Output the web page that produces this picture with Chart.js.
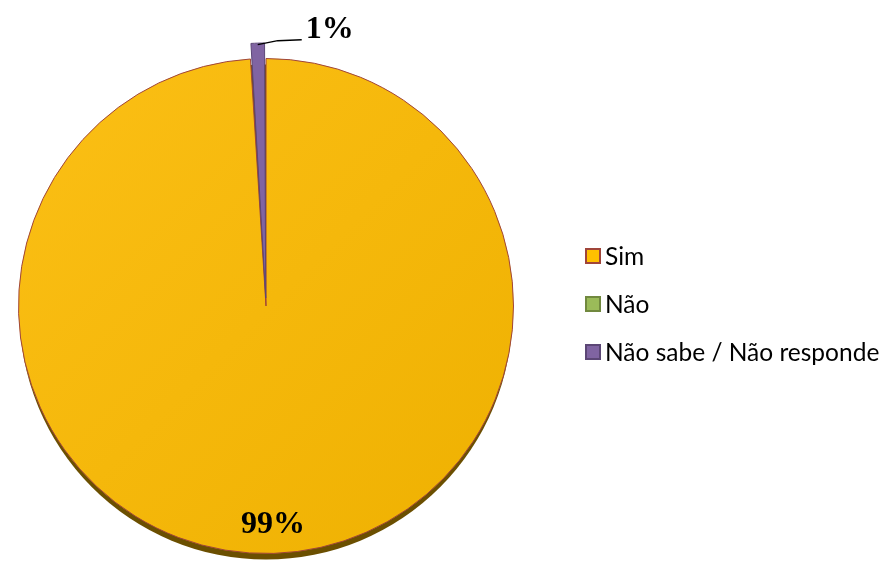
<!DOCTYPE html>
<html>
<head>
<meta charset="utf-8">
<script src="https://cdn.jsdelivr.net/npm/chart.js@4"></script>
<style>
  html, body { margin: 0; padding: 0; background: #fff; }
  #wrap { width: 885px; height: 570px; }
</style>
</head>
<body>
<div id="wrap"><canvas id="pie"></canvas></div>
<script>
  const labels = ["Sim", "Não", "Não sabe / Não responde"];
  const values = [99, 0, 1];
  const valueLabels = ["99%", "", "1%"];

  const sliceColors = ['#F5B90C', '#9BBB59', '#8064A2'];
  const legendColors = ['#FFC000', '#9BBB59', '#8064A2'];
  const sliceBorders = ['#A0453A', '#71893F', '#5C4776'];

  // light-to-dark sheen on the big slice
  function sliceFill(c) {
    const area = c.chart.chartArea;
    if (!area || c.dataIndex !== 0) return sliceColors[c.dataIndex];
    const g = c.chart.ctx.createLinearGradient(area.left, area.top, area.right, area.bottom);
    g.addColorStop(0, '#FCC016');
    g.addColorStop(1, '#EEB000');
    return g;
  }

  // dark rim under the pie, like the 3d edge in the original
  const rimPlugin = {
    id: 'rim',
    beforeDatasetsDraw(chart) {
      const arc = chart.getDatasetMeta(0).data[0];
      if (!arc) return;
      const ctx = chart.ctx;
      ctx.save();
      ctx.fillStyle = '#6B4F00';
      ctx.beginPath();
      ctx.ellipse(arc.x, arc.y + 6, arc.outerRadius - 1, arc.outerRadius, 0, 0, Math.PI * 2);
      ctx.fill();
      ctx.restore();
    }
  };

  const valueLabelPlugin = {
    id: 'valueLabels',
    afterDatasetsDraw(chart) {
      const ctx = chart.ctx;
      const meta = chart.getDatasetMeta(0);
      ctx.save();
      ctx.font = 'bold 32px "Times New Roman", "Liberation Serif", serif';
      ctx.fillStyle = '#000';
      ctx.textBaseline = 'middle';
      meta.data.forEach((arc, i) => {
        if (!valueLabels[i]) return;
        const mid = (arc.startAngle + arc.endAngle) / 2;
        if (i === 0) {
          const r = arc.outerRadius * 0.885;
          ctx.textAlign = 'center';
          ctx.fillText(valueLabels[i], arc.x + Math.cos(mid) * r, arc.y + Math.sin(mid) * r);
        } else {
          // arc offset is drawn at half its value
          const off = chart.data.datasets[0].offset[i] / 2;
          const r = arc.outerRadius + off;
          const px = arc.x + Math.cos(mid) * r;
          const py = arc.y + Math.sin(mid) * r + 2;
          ctx.strokeStyle = '#000';
          ctx.lineWidth = 1.5;
          ctx.beginPath();
          ctx.moveTo(px, py);
          ctx.lineTo(px + 20, py - 4);
          ctx.lineTo(px + 44, py - 5);
          ctx.stroke();
          ctx.textAlign = 'left';
          ctx.fillText(valueLabels[i], px + 48, py - 15);
        }
      });
      ctx.restore();
    }
  };

  // legend drawn to the right of the pie, like the office chart
  const sideLegend = {
    id: 'sideLegend',
    afterDraw(chart) {
      const ctx = chart.ctx;
      const x = chart.chartArea.right + 54;
      const top = 256;
      const step = 48;
      ctx.save();
      ctx.font = '24.5px Lato, "Open Sans", sans-serif';
      ctx.textBaseline = 'middle';
      ctx.textAlign = 'left';
      labels.forEach((lab, i) => {
        const y = top + i * step;
        ctx.fillStyle = legendColors[i];
        ctx.fillRect(x, y - 7, 14, 14);
        ctx.strokeStyle = sliceBorders[i];
        ctx.lineWidth = 2;
        ctx.strokeRect(x, y - 7, 14, 14);
        ctx.fillStyle = '#000';
        ctx.fillText(lab, x + 19, y + 1);
      });
      ctx.restore();
    }
  };

  const pieChart = new Chart(document.getElementById('pie'), {
    type: 'pie',
    data: {
      labels: labels,
      datasets: [
        {
          data: values,
          backgroundColor: sliceFill,
          borderColor: sliceBorders,
          borderWidth: 1,
          offset: [0, 0, 32]
        }
      ]
    },
    options: {
      responsive: true,
      maintainAspectRatio: false,
      animation: false,
      layout: {
        padding: { top: 42, bottom: 0, left: 0, right: 353 }
      },
      plugins: {
        legend: { display: false },
        tooltip: { enabled: false }
      }
    },
    plugins: [rimPlugin, valueLabelPlugin, sideLegend]
  });
</script>
</body>
</html>
